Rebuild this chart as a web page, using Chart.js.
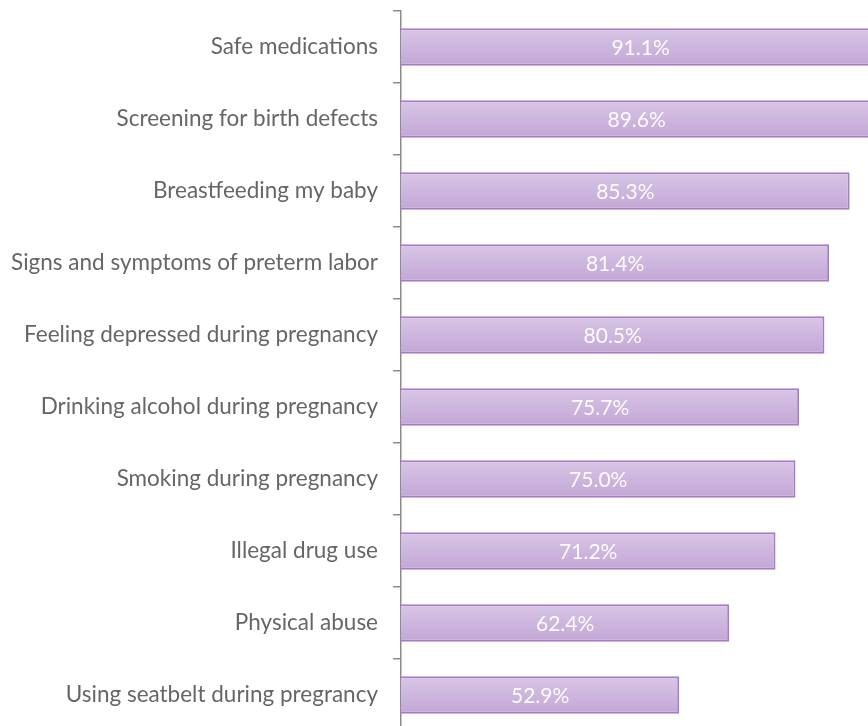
<!DOCTYPE html>
<html>
<head>
<meta charset="utf-8">
<script src="https://cdn.jsdelivr.net/npm/chart.js@4"></script>
<style>
  html, body { margin: 0; padding: 0; background: #fff; overflow: hidden; }
  #wrap { position: relative; width: 927px; height: 740px; }
</style>
</head>
<body>
<div id="wrap"><canvas id="myChart"></canvas></div>
<script>
const topics = [
    'Safe medications',
    'Screening for birth defects',
    'Breastfeeding my baby',
    'Signs and symptoms of preterm labor',
    'Feeling depressed during pregnancy',
    'Drinking alcohol during pregnancy',
    'Smoking during pregnancy',
    'Illegal drug use',
    'Physical abuse',
    'Using seatbelt during pregrancy'
];
const percents = [91.1, 89.6, 85.3, 81.4, 80.5, 75.7, 75.0, 71.2, 62.4, 52.9];

const FONT = 'Lato, "Open Sans", sans-serif';

// vertical lavender gradient for each bar, built from the bar's own position
function barFill(context) {
    const chart = context.chart;
    if (!chart.chartArea || !chart.scales.y) return '#cbb2dc';
    const y = chart.scales.y.getPixelForValue(context.dataIndex);
    const half = 18.5;
    const g = chart.ctx.createLinearGradient(0, y - half, 0, y + half);
    g.addColorStop(0, '#d8c6e6');
    g.addColorStop(1, '#c3a6d6');
    return g;
}

// white value labels in the middle of each bar
const valueLabels = {
    id: 'valueLabels',
    afterDatasetsDraw(chart) {
        const ctx = chart.ctx;
        const meta = chart.getDatasetMeta(0);
        ctx.save();
        ctx.fillStyle = 'rgba(255,255,255,0.95)';
        ctx.font = '21px ' + FONT;
        ctx.textAlign = 'center';
        ctx.textBaseline = 'middle';
        meta.data.forEach((bar, i) => {
            const cx = (bar.base + bar.x) / 2;
            ctx.fillText(percents[i].toFixed(1) + '%', cx, bar.y + 1);
        });
        ctx.restore();
    }
};

var ctx = document.getElementById('myChart').getContext('2d');
var myChart = new Chart(ctx, {
    type: 'bar',
    data: {
        labels: topics,
        datasets: [{
            data: percents,
            backgroundColor: barFill,
            borderColor: '#a77cc7',
            borderWidth: 2,
            borderSkipped: 'left',
            categoryPercentage: 1,
            barPercentage: 0.52,
        }]
    },
    options: {
        indexAxis: 'y',
        responsive: true,
        maintainAspectRatio: false,
        animation: false,
        layout: { padding: { top: 11, bottom: 9, left: 0, right: 0 } },
        plugins: {
            legend: { display: false },
            tooltip: { enabled: false },
        },
        scales: {
            x: {
                display: false,
                min: 0,
                max: 100,
            },
            y: {
                afterFit(scale) {
                    scale.width = 401;
                    scale.paddingTop = 0;
                    scale.paddingBottom = 0;
                },
                border: { display: true, color: '#8c8c8c', width: 1.5 },
                grid: {
                    offset: true,
                    drawOnChartArea: false,
                    drawTicks: true,
                    tickLength: 8,
                    color: '#8c8c8c',
                    lineWidth: 1.5,
                },
                ticks: {
                    color: '#666666',
                    padding: 15,
                    font: { family: FONT, size: 22.5 },
                },
            }
        }
    },
    plugins: [valueLabels],
});
</script>
</body>
</html>
